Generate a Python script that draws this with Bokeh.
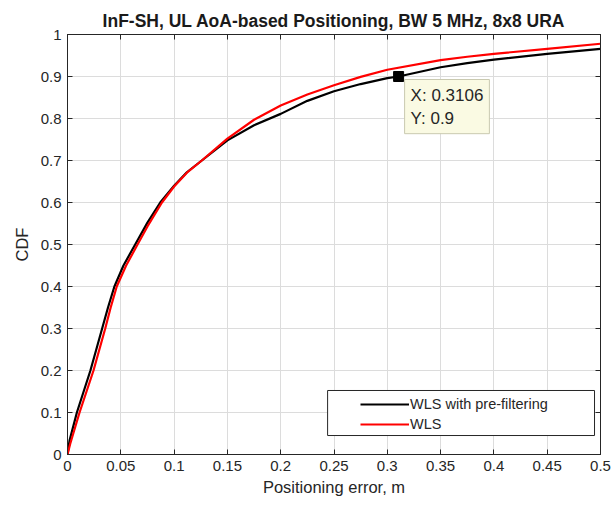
from bokeh.plotting import figure
from bokeh.models import FixedTicker, LinearAxis, Range1d, Legend, LegendItem, Label, BoxAnnotation
from bokeh.embed import file_html
from bokeh.resources import INLINE

# WLS with pre-filtering (black)
prefilt_x = [0.0, 0.0019, 0.0088, 0.0215, 0.0325, 0.038, 0.044, 0.0525, 0.0635, 0.075, 0.087, 0.1, 0.112, 0.126,
             0.15, 0.175, 0.2, 0.225, 0.25, 0.275, 0.3, 0.3106, 0.35, 0.375, 0.4, 0.45, 0.5]
prefilt_y = [0.0, 0.033, 0.1, 0.2, 0.3, 0.35, 0.4, 0.45, 0.5, 0.552, 0.6, 0.64, 0.672, 0.7,
             0.748, 0.784, 0.811, 0.842, 0.865, 0.882, 0.896, 0.9, 0.922, 0.932, 0.94, 0.954, 0.966]
# WLS (red)
wls_x = [0.0, 0.0025, 0.0113, 0.0244, 0.0354, 0.0405, 0.0462, 0.055, 0.0657, 0.075, 0.0886, 0.1, 0.112, 0.126,
         0.15, 0.175, 0.2, 0.225, 0.25, 0.275, 0.3, 0.35, 0.375, 0.4, 0.45, 0.5]
wls_y = [0.0, 0.025, 0.1, 0.2, 0.3, 0.35, 0.4, 0.45, 0.5, 0.543, 0.6, 0.638, 0.671, 0.7,
         0.752, 0.797, 0.831, 0.857, 0.879, 0.899, 0.916, 0.939, 0.947, 0.954, 0.966, 0.978]

series_names = ["WLS with pre-filtering", "WLS"]

xticks = [0, 0.05, 0.1, 0.15, 0.2, 0.25, 0.3, 0.35, 0.4, 0.45, 0.5]
xtick_labels = ["0", "0.05", "0.1", "0.15", "0.2", "0.25", "0.3", "0.35", "0.4", "0.45", "0.5"]
yticks = [0, 0.1, 0.2, 0.3, 0.4, 0.5, 0.6, 0.7, 0.8, 0.9, 1]
ytick_labels = ["0", "0.1", "0.2", "0.3", "0.4", "0.5", "0.6", "0.7", "0.8", "0.9", "1"]

tip_x = 0.3106
tip_y = 0.9

FONT = "Liberation Sans"
TXT = "#262626"

p = figure(width=611, height=508, output_backend="svg", toolbar_location=None,
           x_range=Range1d(0, 0.5), y_range=Range1d(0, 1),
           min_border_left=67, min_border_right=11, min_border_top=34, min_border_bottom=54)
p.title.text = "InF-SH, UL AoA-based Positioning, BW 5 MHz, 8x8 URA"
p.title.text_font = FONT
p.title.text_font_size = "17.5px"
p.title.text_font_style = "bold"
p.title.text_color = "#1a1a1a"
p.title.align = "center"
p.title.standoff = 8

p.outline_line_color = TXT
p.background_fill_color = "white"
p.border_fill_color = "white"

p.xaxis.ticker = FixedTicker(ticks=xticks)
p.yaxis.ticker = FixedTicker(ticks=yticks)
p.xaxis.major_label_overrides = dict(zip(xticks, xtick_labels))
p.yaxis.major_label_overrides = dict(zip(yticks, ytick_labels))
p.xaxis.axis_label = "Positioning error, m"
p.yaxis.axis_label = "CDF"
for ax in (p.xaxis, p.yaxis):
    ax.axis_label_text_font = FONT
    ax.axis_label_text_font_size = "16.5px"
    ax.axis_label_text_font_style = "normal"
    ax.axis_label_text_color = TXT
    ax.major_label_text_font = FONT
    ax.major_label_text_font_size = "15px"
    ax.major_label_text_color = TXT
    ax.major_tick_in = 5
    ax.major_tick_out = 0
    ax.minor_tick_line_color = None
    ax.axis_line_color = TXT
    ax.major_tick_line_color = TXT
    ax.major_label_standoff = 6
p.xaxis.axis_label_standoff = 4
p.yaxis.axis_label_standoff = 7

for loc, ticks in (("right", yticks), ("above", xticks)):
    ax2 = LinearAxis(ticker=FixedTicker(ticks=ticks), major_label_text_font_size="1px",
                     major_label_text_color=None,
                     major_tick_in=5, major_tick_out=0, minor_tick_line_color=None,
                     axis_line_color=TXT, major_tick_line_color=TXT, major_label_standoff=0)
    p.add_layout(ax2, loc)

p.grid.grid_line_color = "#dcdcdc"
p.grid.grid_line_width = 1

r_black = p.line(prefilt_x, prefilt_y, line_color="black", line_width=2.2)
r_red = p.line(wls_x, wls_y, line_color="#ff0000", line_width=2.2)

p.scatter([tip_x], [tip_y], marker="square", size=10, fill_color="black", line_color="black")

tip = Label(x=tip_x, y=tip_y, x_offset=6, y_offset=-3,
            text="X: %s\nY: %s" % (tip_x, tip_y),
            text_align="left", text_baseline="top",
            text_font=FONT, text_font_size="17px", text_color=TXT, text_line_height=1.22,
            background_fill_color="#fafae3", background_fill_alpha=1.0,
            border_line_color="#c9c9b0", border_line_width=1, padding=6)
p.add_layout(tip)

legend_box = BoxAnnotation(left=0.244, right=0.4944, bottom=0.0452, top=0.1524,
                           fill_color="white", fill_alpha=1.0,
                           line_color=TXT, line_width=1, line_alpha=1.0)
p.add_layout(legend_box)

legend = Legend(items=[LegendItem(label=series_names[0], renderers=[r_black]),
                       LegendItem(label=series_names[1], renderers=[r_red])],
                location=(293, 20), padding=0, margin=0, spacing=0,
                glyph_width=49, glyph_height=20, label_height=20, label_standoff=1,
                label_text_font=FONT, label_text_font_size="14.5px", label_text_color=TXT,
                border_line_alpha=0, background_fill_alpha=0)
p.add_layout(legend)

open("out.html", "w").write(file_html(p, INLINE))
